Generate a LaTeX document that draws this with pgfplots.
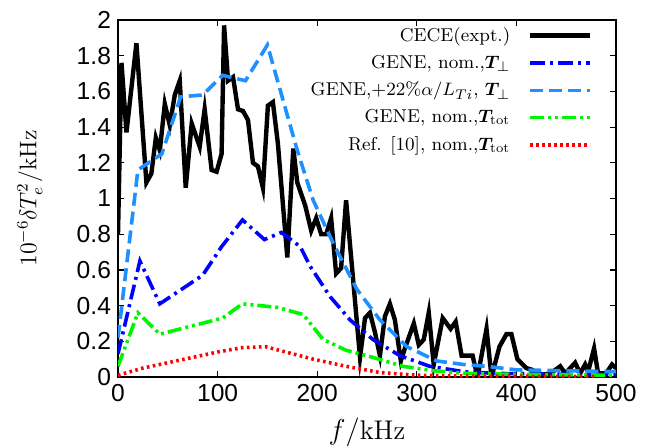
\documentclass[border=0pt]{standalone}
\usepackage{fontspec}
\usepackage{bm}
\usepackage{pgfplots}
\pgfplotsset{compat=1.18}
\newfontfamily\ticksf{Liberation Sans}
\definecolor{lblue}{RGB}{30,144,255}
\definecolor{gblue}{RGB}{0,0,255}
\definecolor{ggreen}{RGB}{0,245,0}
\definecolor{gred}{RGB}{255,0,0}
\begin{document}
\begin{tikzpicture}
\useasboundingbox (-59pt,-35pt) rectangle (266.5pt,188.5pt);
\begin{axis}[
  at={(0,0)}, anchor=south west,
  scale only axis, width=249pt, height=178.5pt,
  xmin=0, xmax=500, ymin=0, ymax=2,
  xtick={0,100,200,300,400,500},
  ytick={0,0.2,0.4,0.6,0.8,1,1.2,1.4,1.6,1.8,2},
  tick align=inside, major tick length=3pt,
  axis line style={line width=0.9pt},
  tick style={line width=0.6pt, black},
  xlabel={$f/\mathrm{kHz}$},
  ylabel={$10^{-6}\delta T_e^2/\mathrm{kHz}$},
  xlabel style={font=\fontsize{13.5}{15}\selectfont, at={(axis description cs:0.5,-0.155)}, anchor=center},
  ylabel style={font=\fontsize{12}{14}\selectfont, at={(axis description cs:-0.177,0.5)}, anchor=center},
  tick label style={font=\ticksf\fontsize{12.3}{14}\selectfont},
  /pgf/number format/assume math mode=true,
  legend style={draw=none, fill=none, at={(axis description cs:0.966,0.995)}, anchor=north east,
    yshift=1.5pt,
    font=\fontsize{9.3}{11}\selectfont, row sep=1.4pt,
    /tikz/every odd column/.style={column sep=7pt}},
  legend cell align=right, legend plot pos=right,
  legend image code/.code={\draw[#1] (0pt,0pt) -- (30pt,0pt);},
]
\addplot[black, line width=2.2pt, line join=miter] coordinates {
(0,0.80)(3.5,1.76)(8.5,1.37)(18.5,1.87)(28.5,1.09)(33.5,1.14)(38,1.34)(42,1.27)
(47,1.53)(52,1.41)(57,1.58)(62,1.66)(68,1.06)(74,1.42)(82,1.29)(87,1.50)(94,1.16)
(99,1.15)(104,1.25)(106.5,1.97)(110.5,1.66)(115.5,1.68)(120.5,1.50)(125.5,1.49)
(130.5,1.44)(135.5,1.20)(140.5,1.18)(145.5,1.06)(150.5,1.52)(155.5,1.54)(160.5,1.31)
(170,0.67)(176,1.28)(180,1.09)(188,0.96)(194,0.82)(199,0.89)(204,0.80)(209,0.80)
(214,0.89)(219,0.58)(224,0.61)(229,0.99)(243,0.11)(248,0.33)(253,0.36)(258,0.25)
(263,0.12)(268,0.34)(273,0.41)(278,0.32)(284,0.09)(288,0.16)(297,0.30)(302,0.18)
(307,0.21)(312,0.36)(317,0.07)(326,0.33)(334,0.27)(339,0.31)(345,0.12)(350,0.12)
(356,0.12)(361,0.00)(370,0.27)(375,0.00)(383,0.17)(390,0.24)(395,0.24)(401,0.10)
(410,0.05)(416,0.04)(424,0.01)(434,0.02)(444,0.06)(449,0.02)(459,0.08)(464,0.02)
(469,0.07)(472,0.03)(478,0.16)(482,0.02)(490,0.02)(496,0.07)(500,0.05)
};
\addlegendentry{CECE(expt.)}
\addplot[gblue, line width=1.8pt, dash pattern=on 7.5pt off 2.5pt on 1.5pt off 2.5pt] coordinates {
(0,0.13)(22,0.65)(42,0.41)(85,0.57)(104,0.73)(125,0.88)(147,0.77)(164,0.81)(183,0.73)
(193,0.62)(213,0.45)(233,0.32)(256,0.21)(283,0.12)(313,0.06)(347,0.03)(380,0.02)
(450,0.015)(500,0.015)
};
\addlegendentry{GENE, nom.,$\bm{T}_\perp$}
\addplot[lblue, line width=1.8pt, dash pattern=on 6.5pt off 3pt] coordinates {
(0,0.22)(20,1.16)(44,1.25)(63,1.57)(85,1.58)(105,1.69)(128,1.66)(150,1.86)(180,1.27)
(196,0.99)(216,0.75)(240,0.49)(263,0.32)(290,0.17)(320,0.09)(347,0.07)(370,0.06)
(400,0.04)(450,0.035)(500,0.03)
};
\addlegendentry{GENE,+22\%$\alpha/L_{Ti}$, $\bm{T}_\perp$}
\addplot[ggreen, line width=1.8pt, dash pattern=on 7pt off 2pt on 1.5pt off 2pt on 1.5pt off 2pt] coordinates {
(0,0.06)(20,0.36)(42,0.24)(105,0.33)(125,0.41)(160,0.39)(186,0.35)(206,0.21)(229,0.15)
(256,0.11)(286,0.06)(317,0.035)(350,0.02)(400,0.015)(500,0.01)
};
\addlegendentry{GENE, nom.,$\bm{T}_{\mathrm{tot}}$}
\addplot[gred, line width=1.8pt, dash pattern=on 1.3pt off 1.7pt] coordinates {
(0,0.01)(25,0.05)(50,0.08)(75,0.11)(100,0.14)(125,0.165)(148,0.17)(165,0.145)
(196,0.10)(229,0.06)(263,0.025)(300,0.01)(350,0.005)(480,0.003)
};
\addlegendentry{Ref. [10], nom.,$\bm{T}_{\mathrm{tot}}$}
\end{axis}
\end{tikzpicture}
\end{document}
